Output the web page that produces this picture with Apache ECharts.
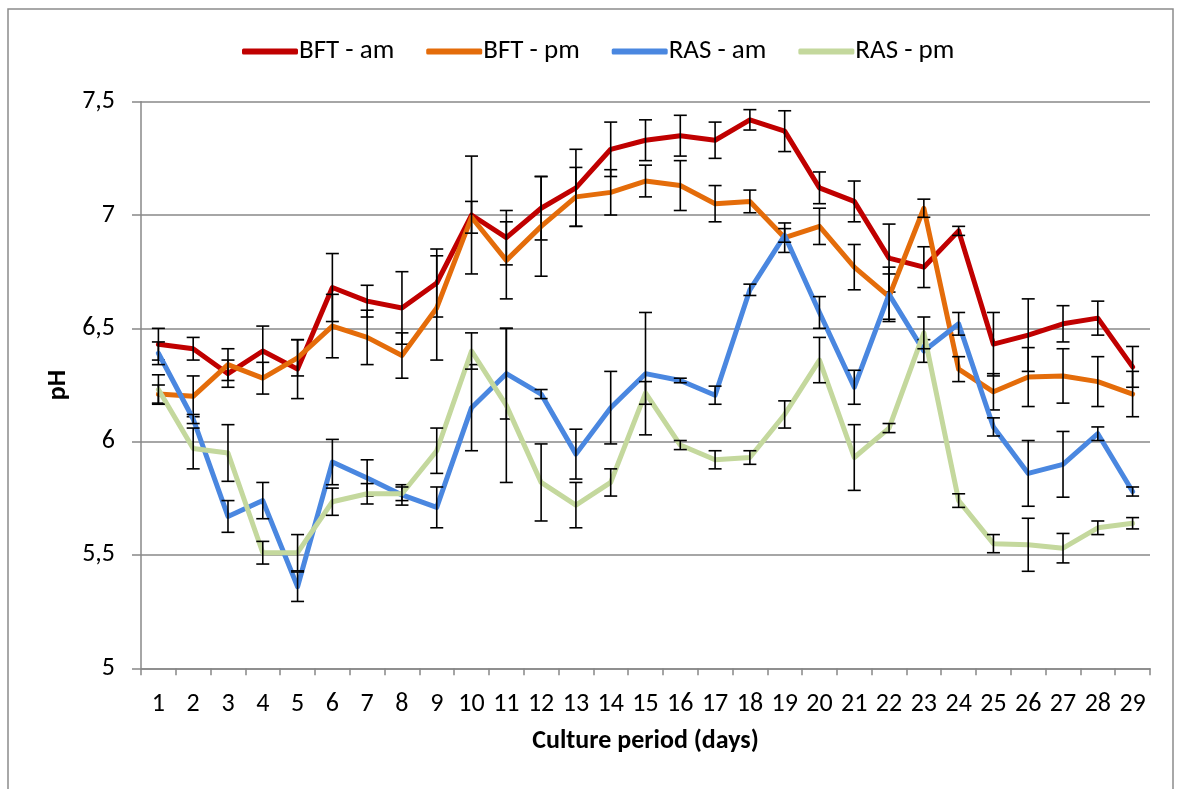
<!DOCTYPE html>
<html>
<head>
<meta charset="utf-8">
<title>pH during culture period</title>
<script src="https://cdn.jsdelivr.net/npm/echarts@6/dist/echarts.min.js"></script>
<style>
  html, body { margin: 0; padding: 0; background: #fff; }
  #chart { width: 1178px; height: 789px; }
</style>
</head>
<body>
<div id="chart"></div>
<script>
// Culture days (x categories)
const days = ['1','2','3','4','5','6','7','8','9','10','11','12','13','14','15','16','17','18','19','20','21','22','23','24','25','26','27','28','29'];

// Mean pH per day and its standard deviation, per system and sampling time
const bftAm   = [6.43, 6.41, 6.30, 6.40, 6.32, 6.68, 6.62, 6.59, 6.70, 7.00, 6.90, 7.03, 7.12, 7.29, 7.33, 7.35, 7.33, 7.42, 7.37, 7.12, 7.06, 6.81, 6.77, 6.93, 6.43, 6.47, 6.52, 6.545, 6.33];
const bftAmSd = [0.07, 0.05, 0.06, 0.11, 0.13, 0.15, 0.07, 0.16, 0.15, 0.26, 0.12, 0.14, 0.17, 0.12, 0.09, 0.09, 0.08, 0.045, 0.09, 0.07, 0.09, 0.15, 0.09, 0.02, 0.14, 0.16, 0.08, 0.075, 0.09];

const bftPm   = [6.21, 6.20, 6.34, 6.28, 6.37, 6.51, 6.46, 6.38, 6.59, 6.99, 6.80, 6.95, 7.08, 7.10, 7.15, 7.13, 7.05, 7.06, 6.90, 6.95, 6.77, 6.64, 7.03, 6.32, 6.22, 6.285, 6.29, 6.265, 6.21];
const bftPmSd = [0.04, 0.09, 0.07, 0.07, 0.08, 0.14, 0.12, 0.10, 0.23, 0.07, 0.17, 0.22, 0.13, 0.10, 0.07, 0.11, 0.08, 0.05, 0.065, 0.08, 0.10, 0.10, 0.04, 0.055, 0.08, 0.13, 0.12, 0.11, 0.10];

const rasAm   = [6.39, 6.10, 5.67, 5.74, 5.36, 5.91, 5.84, 5.765, 5.71, 6.15, 6.30, 6.21, 5.945, 6.15, 6.30, 6.27, 6.205, 6.67, 6.91, 6.57, 6.24, 6.65, 6.40, 6.52, 6.065, 5.86, 5.90, 6.035, 5.78];
const rasAmSd = [0.05, 0.02, 0.07, 0.08, 0.065, 0.10, 0.08, 0.045, 0.09, 0.19, 0.20, 0.02, 0.11, 0.16, 0.27, 0.01, 0.04, 0.025, 0.03, 0.07, 0.075, 0.12, 0.05, 0.05, 0.04, 0.145, 0.145, 0.03, 0.02];

const rasPm   = [6.23, 5.97, 5.95, 5.51, 5.51, 5.735, 5.77, 5.77, 5.96, 6.40, 6.16, 5.82, 5.72, 5.82, 6.215, 5.985, 5.92, 5.93, 6.12, 6.36, 5.93, 6.06, 6.48, 5.74, 5.55, 5.545, 5.53, 5.62, 5.64];
const rasPmSd = [0.065, 0.09, 0.125, 0.05, 0.08, 0.06, 0.045, 0.03, 0.10, 0.08, 0.34, 0.17, 0.10, 0.06, 0.05, 0.02, 0.04, 0.03, 0.06, 0.10, 0.145, 0.02, 0.07, 0.03, 0.04, 0.117, 0.065, 0.03, 0.025];

// Y axis range
const yMin = 5;
const yMax = 7.5;
const yStep = 0.5;

const seriesDefs = [
  { name: 'BFT - am', values: bftAm, sd: bftAmSd, color: '#C00000' },
  { name: 'BFT - pm', values: bftPm, sd: bftPmSd, color: '#E46C0A' },
  { name: 'RAS - am', values: rasAm, sd: rasAmSd, color: '#4A87E0' },
  { name: 'RAS - pm', values: rasPm, sd: rasPmSd, color: '#C4D89D' }
];

const FONT = 'Carlito, Calibri, Lato, sans-serif';
const GRID_GREY = '#888888';

// Vertical error bar with caps, positioned through the axis scales
function renderErrorBar(params, api) {
  const idx = api.value(0);
  const lo = api.coord([idx, api.value(1)]);
  const hi = api.coord([idx, api.value(2)]);
  const half = 6.5;
  const style = { stroke: '#000', lineWidth: 1.6 };
  return {
    type: 'group',
    children: [
      { type: 'line', shape: { x1: lo[0], y1: lo[1], x2: hi[0], y2: hi[1] }, style: style },
      { type: 'line', shape: { x1: lo[0] - half, y1: lo[1], x2: lo[0] + half, y2: lo[1] }, style: style },
      { type: 'line', shape: { x1: hi[0] - half, y1: hi[1], x2: hi[0] + half, y2: hi[1] }, style: style }
    ]
  };
}

const series = [];
seriesDefs.forEach(function (s, k) {
  series.push({
    name: s.name,
    type: 'line',
    data: s.values,
    symbol: 'none',
    z: 2 + k * 2,
    lineStyle: { color: s.color, width: 5, cap: 'round', join: 'round' },
    itemStyle: { color: s.color },
    emphasis: { disabled: true },
    animation: false
  });
  series.push({
    name: s.name + ' sd',
    type: 'custom',
    renderItem: renderErrorBar,
    data: s.values.map(function (v, i) { return [i, v - s.sd[i], v + s.sd[i]]; }),
    encode: { x: 0, y: [1, 2] },
    z: 3 + k * 2,
    silent: true,
    animation: false
  });
});

const chart = echarts.init(document.getElementById('chart'), null, { renderer: 'canvas' });
chart.setOption({
  animation: false,
  backgroundColor: '#fff',
  textStyle: { fontFamily: FONT },
  graphic: [{
    type: 'rect',
    shape: { x: 8, y: 9, width: 1165, height: 800 },
    style: { fill: 'none', stroke: '#8c8c8c', lineWidth: 1.5 },
    silent: true
  }],
  legend: {
    data: seriesDefs.map(function (s) { return s.name; }),
    left: 237,
    top: 33,
    icon: 'roundRect',
    itemWidth: 56,
    itemHeight: 6,
    itemGap: 32,
    textStyle: { fontFamily: FONT, fontSize: 27, color: '#000', padding: [0, 0, 0, -4] }
  },
  grid: { left: 141, right: 28, top: 101.7, bottom: 120.7 },
  xAxis: {
    type: 'category',
    data: days,
    boundaryGap: true,
    name: 'Culture period (days)',
    nameLocation: 'middle',
    nameGap: 60,
    nameTextStyle: { fontFamily: FONT, fontSize: 26, fontWeight: 'bold', color: '#000' },
    axisLine: { lineStyle: { color: GRID_GREY, width: 1.5 } },
    axisTick: { show: true, alignWithLabel: false, length: 7, lineStyle: { color: GRID_GREY, width: 1.5 } },
    axisLabel: { fontFamily: FONT, fontSize: 26, color: '#000', margin: 23, interval: 0 },
    splitLine: { show: false }
  },
  yAxis: {
    type: 'value',
    min: yMin,
    max: yMax,
    interval: yStep,
    name: 'pH',
    nameLocation: 'middle',
    nameGap: 70,
    nameRotate: 90,
    nameTextStyle: { fontFamily: FONT, fontSize: 26, fontWeight: 'bold', color: '#000' },
    axisLine: { show: true, lineStyle: { color: GRID_GREY, width: 1.5 } },
    axisTick: { show: true, length: 9, lineStyle: { color: GRID_GREY, width: 1.5 } },
    axisLabel: {
      fontFamily: FONT, fontSize: 26, color: '#000', margin: 26,
      formatter: function (v) { return String(v).replace('.', ','); }
    },
    splitLine: { show: true, lineStyle: { color: GRID_GREY, width: 1.5 } }
  },
  series: series
});
</script>
</body>
</html>
